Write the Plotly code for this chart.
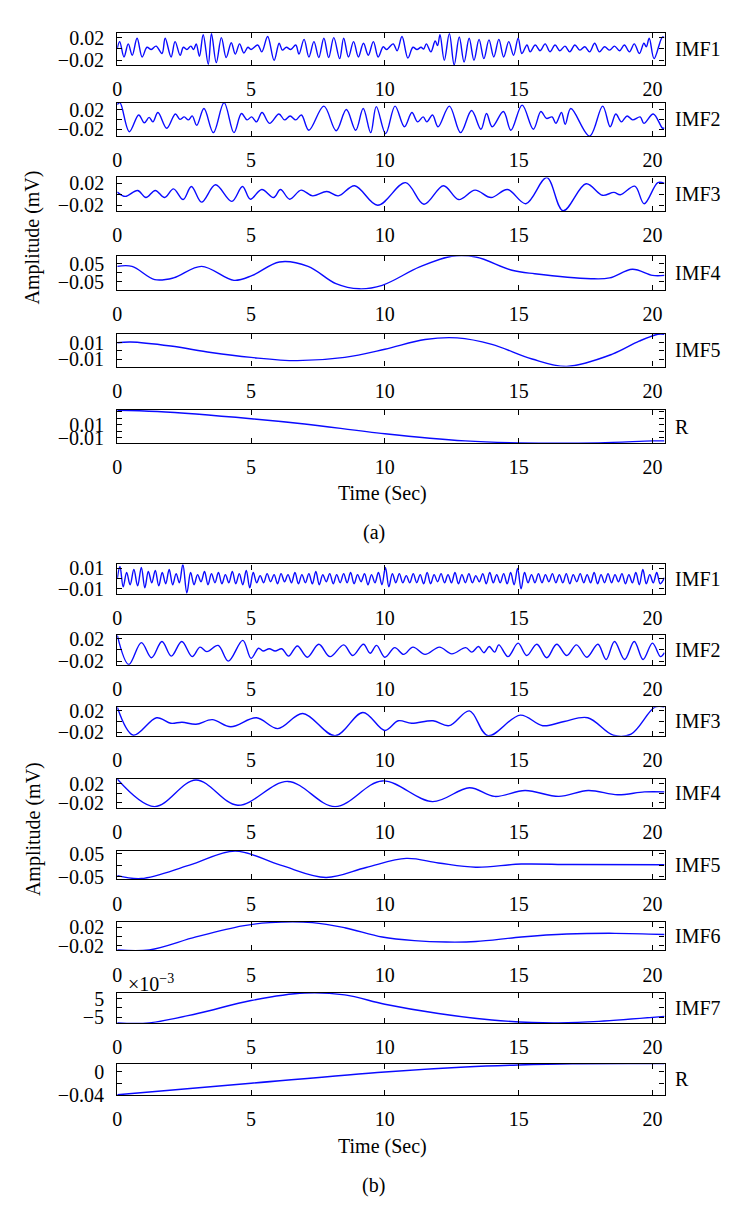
import plotly.graph_objects as go

# ---------------- DATA (local extrema / key points) ----------------
# Panel (a)
a_imf1_t = [0.00,0.09,0.25,0.41,0.56,0.74,0.93,1.11,1.27,1.45,1.67,1.79,2.01,2.16,2.35,2.47,2.60,2.75,2.85,2.95,3.07,3.21,3.40,3.52,3.70,3.89,4.07,4.26,4.41,4.57,4.73,4.88,5.00,5.25,5.40,5.62,5.86,6.05,6.17,6.32,6.48,6.67,6.79,6.98,7.16,7.35,7.53,7.72,7.90,8.09,8.31,8.46,8.64,8.83,9.01,9.20,9.38,9.57,9.75,9.94,10.06,10.31,10.46,10.64,10.86,11.05,11.20,11.35,11.45,11.55,11.72,11.88,11.97,12.06,12.22,12.41,12.59,12.78,12.96,13.15,13.33,13.52,13.70,13.89,14.07,14.26,14.44,14.63,14.81,14.98,15.12,15.31,15.43,15.62,15.80,15.99,16.17,16.36,16.54,16.73,16.91,17.10,17.28,17.47,17.65,17.84,18.02,18.21,18.40,18.58,18.77,18.95,19.14,19.32,19.51,19.68,19.77,19.88,20.06,20.37,20.45]
a_imf1_v = [0.001,0.013,-0.014,0.009,-0.011,0.019,-0.014,0.003,-0.001,0.005,-0.008,0.019,-0.014,0.013,-0.011,0.003,-0.001,0.005,-0.001,0.009,-0.013,0.025,-0.027,0.027,-0.024,0.020,-0.015,0.011,-0.009,0.009,-0.007,0.003,-0.001,0.007,-0.005,0.022,-0.020,0.010,-0.002,0.003,-0.001,0.007,-0.009,0.017,-0.014,0.013,-0.015,0.019,-0.015,0.020,-0.017,0.019,-0.014,0.013,-0.014,0.010,-0.011,0.013,-0.014,0.004,-0.001,0.009,-0.003,0.022,-0.016,0.003,-0.001,0.003,0.000,0.009,-0.005,0.014,0.006,0.025,-0.020,0.027,-0.028,0.021,-0.023,0.019,-0.020,0.017,-0.017,0.016,-0.014,0.017,-0.014,0.013,-0.011,0.019,-0.008,0.007,-0.005,0.007,-0.003,0.009,-0.005,0.007,-0.003,0.005,-0.005,0.007,-0.002,0.004,-0.005,0.010,-0.005,0.004,-0.002,0.005,-0.003,0.007,-0.005,0.009,-0.008,0.010,0.004,0.019,-0.017,0.021,0.020]

a_imf2_t = [0.00,0.10,0.45,0.80,1.01,1.19,1.33,1.52,1.85,2.17,2.34,2.50,2.66,2.80,2.97,3.24,3.59,3.99,4.36,4.64,4.85,5.02,5.20,5.41,5.69,6.04,6.25,6.46,6.67,6.88,7.16,7.72,8.18,8.56,8.91,9.19,9.47,9.68,10.03,10.38,10.73,11.01,11.22,11.43,11.57,11.78,11.99,12.41,12.83,13.24,13.59,13.80,14.01,14.43,14.71,15.13,15.55,15.83,16.04,16.25,16.39,16.60,16.74,16.95,17.65,18.14,18.42,18.63,18.84,19.05,19.26,19.54,19.68,20.03,20.38,20.45]
a_imf2_v = [0.030,0.034,-0.025,0.009,-0.007,0.004,-0.005,0.014,-0.018,0.011,0.000,0.005,-0.001,0.007,-0.012,0.022,-0.027,0.034,-0.027,0.012,-0.001,0.005,-0.005,0.014,-0.008,0.011,-0.001,0.007,-0.001,0.009,-0.022,0.027,-0.023,0.020,-0.022,0.022,-0.027,0.026,-0.029,0.027,-0.015,0.014,-0.005,0.005,-0.005,0.009,-0.015,0.027,-0.027,0.018,-0.020,0.012,-0.015,0.016,-0.022,0.029,-0.020,0.016,0.002,0.005,-0.008,0.014,-0.010,0.022,-0.034,0.027,-0.015,0.011,-0.005,0.007,-0.001,0.005,-0.008,0.011,-0.018,-0.017]

a_imf3_t = [0.00,0.30,0.76,1.07,1.42,1.77,2.10,2.46,2.77,3.15,3.67,4.28,4.68,4.97,5.40,5.84,6.10,6.44,6.87,7.30,7.83,8.26,8.87,9.73,10.77,11.46,12.19,12.76,13.37,13.97,14.58,15.27,16.05,16.66,17.52,18.13,18.56,18.80,19.34,19.69,20.20,20.45]
a_imf3_v = [0.004,-0.004,0.0068,-0.006,0.0068,-0.006,0.0097,-0.0097,0.014,-0.0143,0.017,-0.013,0.014,-0.009,0.0086,-0.006,0.0086,-0.009,0.0074,-0.003,0.005,-0.003,0.0154,-0.020,0.021,-0.0183,0.0154,-0.0097,0.0074,-0.006,0.0086,-0.0172,0.030,-0.030,0.0189,-0.002,0.0034,-0.001,0.0146,-0.0172,0.021,0.0194]

a_imf4_t = [0.00,0.55,1.40,2.10,3.15,4.36,5.05,6.06,7.13,8.17,9.04,9.90,11.30,12.50,13.40,14.75,15.60,17.70,18.40,19.25,20.00,20.45]
a_imf4_v = [0.035,0.035,-0.037,-0.028,0.035,-0.041,-0.014,0.059,0.035,-0.059,-0.087,-0.068,0.032,0.090,0.086,0.014,-0.005,-0.032,-0.028,0.019,-0.014,-0.014]

a_imf5_t = [0.0,0.5,2.0,3.5,5.0,6.7,8.5,10.0,11.5,12.7,14.0,15.5,16.8,18.5,19.5,20.2,20.45]
a_imf5_v = [0.010,0.011,0.006,-0.002,-0.008,-0.012,-0.008,0.002,0.014,0.016,0.008,-0.010,-0.019,-0.004,0.012,0.0205,0.0205]

a_r_t = [0.0,1.5,5.0,7.0,10.0,13.0,15.0,18.0,20.0,20.45]
a_r_v = [0.032,0.030,0.019,0.011,-0.004,-0.015,-0.018,-0.018,-0.015,-0.015]

# Panel (b)
b_imf1_t = [0.00,0.10,0.22,0.35,0.48,0.62,0.76,0.90,1.03,1.16,1.29,1.42,1.55,1.68,1.81,1.94,2.07,2.20,2.32,2.45,2.60,2.74,2.87,3.00,3.13,3.26,3.39,3.52,3.65,3.78,3.91,4.04,4.17,4.30,4.43,4.56,4.69,4.82,4.95,5.08,5.21,5.34,5.47,5.60,5.73,5.86,5.99,6.12,6.25,6.38,6.51,6.64,6.77,6.90,7.03,7.16,7.29,7.42,7.55,7.68,7.81,7.94,8.07,8.20,8.33,8.46,8.59,8.72,8.85,8.98,9.11,9.24,9.37,9.50,9.63,9.76,9.89,10.02,10.15,10.28,10.41,10.54,10.67,10.80,10.93,11.06,11.19,11.32,11.45,11.58,11.71,11.84,11.97,12.10,12.23,12.36,12.49,12.62,12.75,12.88,13.01,13.14,13.27,13.40,13.53,13.66,13.79,13.92,14.05,14.18,14.31,14.44,14.57,14.70,14.83,14.96,15.09,15.22,15.35,15.48,15.61,15.74,15.87,16.00,16.13,16.26,16.39,16.52,16.65,16.78,16.91,17.04,17.17,17.30,17.43,17.56,17.69,17.82,17.95,18.08,18.21,18.34,18.47,18.60,18.73,18.86,18.99,19.12,19.25,19.38,19.51,19.64,19.77,19.90,20.03,20.16,20.29,20.45]
b_imf1_v = [0.000,0.012,-0.008,0.006,-0.006,0.009,-0.007,0.011,-0.009,0.007,-0.004,0.008,-0.007,0.006,-0.005,0.009,-0.006,0.005,-0.004,0.014,-0.014,0.006,-0.006,0.004,-0.003,0.007,-0.006,0.005,-0.004,0.006,-0.005,0.004,-0.004,0.007,-0.005,0.005,-0.006,0.008,-0.009,0.006,-0.004,0.003,-0.004,0.005,-0.003,0.004,-0.005,0.005,-0.003,0.004,-0.004,0.006,-0.005,0.004,-0.004,0.005,-0.005,0.007,-0.006,0.004,-0.003,0.005,-0.005,0.004,-0.004,0.005,-0.004,0.006,-0.005,0.004,-0.003,0.005,-0.006,0.004,-0.004,0.006,-0.006,0.011,-0.008,0.005,-0.004,0.005,-0.004,0.003,-0.004,0.005,-0.004,0.004,-0.005,0.006,-0.005,0.004,-0.003,0.005,-0.004,0.004,-0.004,0.006,-0.005,0.004,-0.004,0.005,-0.004,0.003,-0.003,0.005,-0.005,0.006,-0.004,0.004,-0.004,0.005,-0.005,0.006,-0.006,0.010,-0.010,0.006,-0.004,0.004,-0.004,0.005,-0.004,0.004,-0.003,0.005,-0.004,0.004,-0.004,0.005,-0.005,0.004,-0.003,0.005,-0.004,0.004,-0.004,0.006,-0.005,0.004,-0.004,0.005,-0.004,0.004,-0.003,0.005,-0.005,0.004,-0.004,0.006,-0.006,0.009,-0.005,0.004,-0.004,0.006,-0.005,0.001]

b_imf2_t = [0.00,0.43,0.90,1.28,1.67,2.02,2.41,2.80,3.09,3.35,3.77,4.15,4.69,5.00,5.28,5.45,5.68,5.90,6.15,6.40,6.73,7.10,7.53,7.95,8.46,8.80,9.20,9.45,9.69,10.00,10.37,10.70,11.05,11.50,12.04,12.50,13.02,13.25,13.50,13.70,13.90,14.10,14.26,14.60,14.98,15.30,15.68,16.05,16.42,16.80,17.16,17.55,17.96,18.27,18.58,18.96,19.32,19.65,20.00,20.30,20.45]
b_imf2_v = [0.026,-0.026,0.013,-0.014,0.015,-0.011,0.015,-0.012,0.005,-0.003,0.008,-0.020,0.017,-0.015,0.003,-0.002,0.002,-0.002,0.002,-0.011,0.007,-0.013,0.010,-0.012,0.009,-0.010,0.010,-0.006,0.008,-0.013,0.004,-0.008,0.005,-0.008,0.005,-0.007,0.004,-0.004,0.006,-0.005,0.006,-0.004,0.009,-0.012,0.012,-0.010,0.010,-0.014,0.010,-0.010,0.009,-0.013,0.010,-0.017,0.015,-0.017,0.015,-0.017,0.012,-0.012,-0.005]

b_imf3_t = [0.00,0.60,1.47,2.00,2.42,2.94,3.55,4.24,5.20,6.00,6.93,8.14,9.18,10.00,10.50,11.00,11.80,12.40,13.16,13.85,15.06,15.90,16.70,17.58,18.53,19.20,20.09,20.45]
b_imf3_v = [0.027,-0.026,0.007,-0.0034,-0.0014,-0.0054,0.0034,-0.010,0.007,-0.0135,0.015,-0.027,0.017,-0.017,0.0013,-0.0034,0.0013,-0.008,0.020,-0.027,0.012,-0.008,0.000,0.007,-0.026,-0.024,0.027,0.027]

b_imf4_t = [0.00,1.39,2.94,4.50,6.37,8.14,9.90,11.78,13.16,14.10,15.24,16.50,17.60,18.70,19.70,20.45]
b_imf4_v = [0.030,-0.028,0.028,-0.025,0.025,-0.028,0.026,-0.0175,0.0117,-0.0065,0.0059,-0.0065,0.0059,-0.003,0.003,0.003]

b_imf5_t = [0.0,0.9,2.7,4.4,6.1,7.8,9.3,10.8,12.0,13.4,15.1,17.0,20.45]
b_imf5_v = [-0.046,-0.059,0.000,0.062,0.000,-0.054,-0.010,0.030,0.010,-0.009,0.005,0.003,0.002]

b_imf6_t = [0.0,1.2,2.94,4.68,5.7,7.3,8.5,9.9,11.1,12.3,13.4,15.1,16.8,18.6,20.45]
b_imf6_v = [-0.029,-0.029,-0.001,0.023,0.030,0.030,0.019,-0.001,-0.009,-0.012,-0.011,-0.0012,0.0052,0.0068,0.0044]

b_imf7_t = [0.0,1.2,3.0,5.0,7.0,8.5,10.0,12.0,14.0,15.5,16.5,18.0,20.45]
b_imf7_v = [-0.0080,-0.0080,-0.0030,0.0040,0.0080,0.0070,0.0020,-0.0030,-0.0065,-0.0078,-0.0080,-0.0072,-0.0045]

b_r_t = [0.0,5.0,10.0,13.0,15.0,17.0,20.45]
b_r_v = [-0.040,-0.020,-0.0005,0.008,0.0115,0.0135,0.0138]

# Tick values / labels
x_tick_vals = [0, 5, 10, 15, 20]
x_tick_text = ["0", "5", "10", "15", "20"]
y02_vals, y02_text = [-0.02, 0, 0.02], ["\u22120.02", "", "0.02"]
y01_vals, y01_text = [-0.01, 0, 0.01], ["\u22120.01", "", "0.01"]
y05_vals, y05_text = [-0.05, 0, 0.05], ["\u22120.05", "", "0.05"]
ya_r_vals, ya_r_text = [-0.01, 0, 0.01, 0.02, 0.03], ["\u22120.01", "", "0.01", "", ""]
y7_vals, y7_text = [-0.005, 0, 0.005], ["\u22125", "", "5"]
yb_r_vals, yb_r_text = [-0.04, -0.02, 0], ["\u22120.04", "", "0"]

panel_names_a = ["IMF1", "IMF2", "IMF3", "IMF4", "IMF5", "R"]
panel_names_b = ["IMF1", "IMF2", "IMF3", "IMF4", "IMF5", "IMF6", "IMF7", "R"]

# ---------------- LAYOUT / STYLE ----------------
W, H = 730, 1232
FONT = "'Liberation Serif', 'Times New Roman', Times, serif"
X_LEFT, X_RIGHT = 105, 656
X_RANGE = [0, 20.45]

panels = [
    (a_imf1_t, a_imf1_v, panel_names_a[0], [-0.0286, 0.0286], y02_vals, y02_text, (17, 50)),
    (a_imf2_t, a_imf2_v, panel_names_a[1], [-0.034, 0.034], y02_vals, y02_text, (88, 122)),
    (a_imf3_t, a_imf3_v, panel_names_a[2], [-0.0303, 0.0303], y02_vals, y02_text, (164, 198)),
    (a_imf4_t, a_imf4_v, panel_names_a[3], [-0.092, 0.090], y05_vals, y05_text, (244, 278)),
    (a_imf5_t, a_imf5_v, panel_names_a[4], [-0.0192, 0.0208], y01_vals, y01_text, (323, 356)),
    (a_r_t, a_r_v, panel_names_a[5], [-0.0187, 0.0326], ya_r_vals, ya_r_text, (400, 434)),
    (b_imf1_t, b_imf1_v, panel_names_b[0], [-0.0150, 0.0140], y01_vals, y01_text, (557, 587)),
    (b_imf2_t, b_imf2_v, panel_names_b[1], [-0.0266, 0.0260], y02_vals, y02_text, (629, 659)),
    (b_imf3_t, b_imf3_v, panel_names_b[2], [-0.027, 0.027], y02_vals, y02_text, (702, 731)),
    (b_imf4_t, b_imf4_v, panel_names_b[3], [-0.030, 0.030], y02_vals, y02_text, (775, 804)),
    (b_imf5_t, b_imf5_v, panel_names_b[4], [-0.063, 0.063], y05_vals, y05_text, (848, 877)),
    (b_imf6_t, b_imf6_v, panel_names_b[5], [-0.030, 0.0317], y02_vals, y02_text, (920, 949)),
    (b_imf7_t, b_imf7_v, panel_names_b[6], [-0.0082, 0.0082], y7_vals, y7_text, (992, 1023)),
    (b_r_t, b_r_v, panel_names_b[7], [-0.0405, 0.0139], yb_r_vals, yb_r_text, (1064, 1096)),
]

fig = go.Figure()
layout = dict(
    width=W, height=H, margin=dict(l=0, r=0, t=0, b=0),
    paper_bgcolor="white", plot_bgcolor="white", showlegend=False,
    font=dict(family=FONT, size=20, color="black"),
)
annotations = []
axis_common = dict(
    showline=True, linecolor="black", linewidth=1.3, mirror="ticks",
    ticks="inside", ticklen=5, tickwidth=1, tickcolor="black",
    showgrid=False, zeroline=False,
    tickfont=dict(family=FONT, size=20, color="black"),
)

for i, (t, v, name, yr, tv, tt, (top, bot)) in enumerate(panels):
    k = i + 1
    xa = "x" if k == 1 else f"x{k}"
    ya = "y" if k == 1 else f"y{k}"
    fig.add_trace(go.Scatter(
        x=t, y=v, mode="lines", xaxis=xa, yaxis=ya,
        line=dict(color="#0a0aff", width=1.4, shape="spline", smoothing=1.0),
        hoverinfo="skip",
    ))
    dom_y = [1 - bot / H, 1 - top / H]
    layout["xaxis" if k == 1 else f"xaxis{k}"] = dict(
        axis_common, domain=[X_LEFT / W, X_RIGHT / W], range=X_RANGE,
        tickvals=x_tick_vals, ticktext=x_tick_text, anchor=ya, ticklabelstandoff=6,
    )
    layout["yaxis" if k == 1 else f"yaxis{k}"] = dict(
        axis_common, domain=dom_y, range=yr, tickvals=tv, ticktext=tt,
        anchor=xa, ticklabelstandoff=8,
    )
    annotations.append(dict(
        text=name, x=665 / W, y=1 - (top + bot) / 2 / H, xref="paper", yref="paper",
        xanchor="left", yanchor="middle", showarrow=False,
        font=dict(family=FONT, size=20, color="black"),
    ))

def txt(s, x, y, angle=0, xanchor="center"):
    annotations.append(dict(
        text=s, x=x / W, y=1 - y / H, xref="paper", yref="paper",
        xanchor=xanchor, yanchor="middle", showarrow=False, textangle=angle,
        font=dict(family=FONT, size=20, color="black"),
    ))

txt("Amplitude (mV)", 20, 225, angle=-90)
txt("Amplitude (mV)", 20, 826, angle=-90)
txt("Time (Sec)", 372, 485)
txt("Time (Sec)", 372, 1148)
txt("(a)", 363, 525)
txt("(b)", 363, 1188)
txt("\u00d710<sup>\u22123</sup>", 114, 982, xanchor="left")

layout["annotations"] = annotations
fig.update_layout(**layout)
fig.write_html("out.html")
